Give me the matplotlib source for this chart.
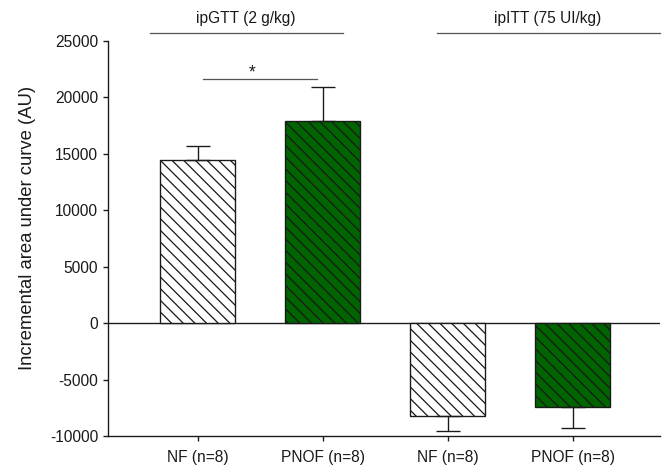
import matplotlib
matplotlib.use("Agg")
import matplotlib.pyplot as plt
import numpy as np

categories = ["NF (n=8)", "PNOF (n=8)", "NF (n=8)", "PNOF (n=8)"]
values = [14450, 17900, -8250, -7450]
errors = [1250, 3000, 1300, 1800]
colors = ["white", "#006400", "white", "#006400"]
yticks = [-10000, -5000, 0, 5000, 10000, 15000, 20000, 25000]
group_labels = ["ipGTT (2 g/kg)", "ipITT (75 UI/kg)"]

DPI = 70
plt.rcParams['font.family'] = ['Liberation Sans', 'DejaVu Sans']
plt.rcParams['hatch.linewidth'] = 1.3
fig = plt.figure(figsize=(664 / DPI, 468 / DPI), dpi=DPI)
ax = fig.add_axes([108 / 664, 1 - 436 / 468, (660 - 108) / 664, (436 - 41) / 468])

x = np.arange(len(categories))
ax.bar(x, values, width=0.6, color=colors, edgecolor="#1a1a1a", linewidth=1.4,
       hatch="\\\\", zorder=2)
lower = [0 if v >= 0 else e for v, e in zip(values, errors)]
upper = [e if v >= 0 else 0 for v, e in zip(values, errors)]
ax.errorbar(x, values, yerr=[lower, upper], fmt="none", ecolor="#1a1a1a",
            elinewidth=1.4, capsize=12, capthick=1.4, zorder=3)

ax.axhline(0, color="#1a1a1a", linewidth=1.4, zorder=1)
ax.set_xlim(-0.72, 3.70)
ax.set_ylim(-10000, 25000)
ax.set_yticks(yticks)
ax.set_yticklabels([str(t) for t in yticks])
ax.set_xticks(x)
ax.set_xticklabels(categories)
ax.tick_params(axis="both", labelsize=16, length=5, width=1.4, color="#1a1a1a",
               labelcolor="#1a1a1a", direction="out", pad=5)
ax.tick_params(axis="x", pad=9)
for s in ["top", "right"]:
    ax.spines[s].set_visible(False)
for s in ["left", "bottom"]:
    ax.spines[s].set_linewidth(1.4)
    ax.spines[s].set_color("#1a1a1a")
ax.set_ylabel("Incremental area under curve (AU)", fontsize=19, color="#1a1a1a")
ax.yaxis.set_label_coords(-0.13, 0.527)

# group annotations
ax.plot([-0.384, 1.16], [25700, 25700], color="#555555", lw=1.3, clip_on=False)
ax.plot([1.912, 3.70], [25700, 25700], color="#555555", lw=1.3, clip_on=False)
ax.text(0.384, 26950, group_labels[0], ha="center", va="center", fontsize=16, color="#1a1a1a")
ax.text(2.8, 26950, group_labels[1], ha="center", va="center", fontsize=16, color="#1a1a1a")

# significance
ax.plot([0.04, 0.952], [21640, 21640], color="#555555", lw=1.3)
ax.text(0.43, 22200, "*", ha="center", va="center", fontsize=18, color="#1a1a1a")

fig.savefig("out.png", dpi=DPI)
